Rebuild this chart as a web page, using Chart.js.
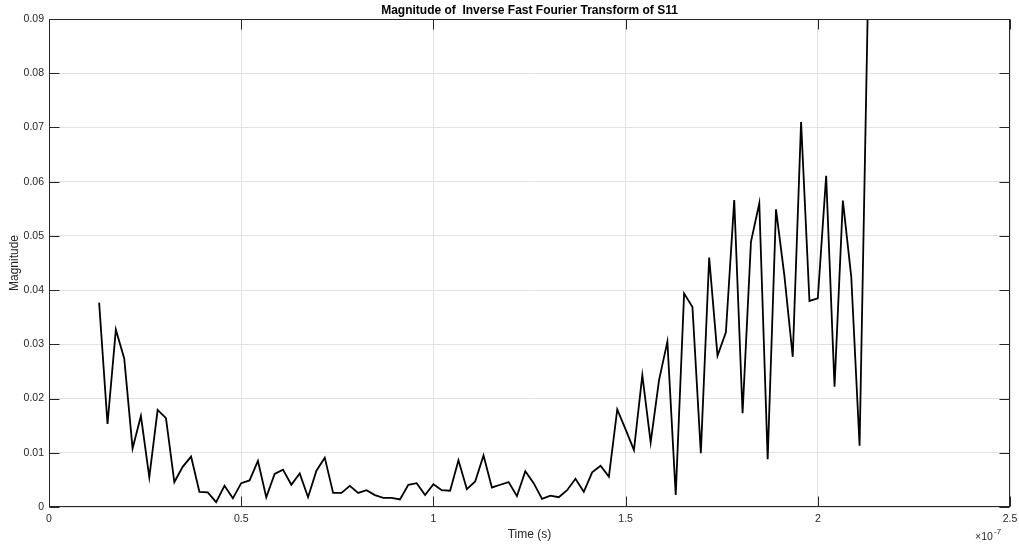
<!DOCTYPE html>
<html>
<head>
<meta charset="utf-8">
<script src="https://cdn.jsdelivr.net/npm/chart.js@4"></script>
<style>
  body { margin: 0; background: #fff; }
  #wrap { width: 1019px; height: 544px; }
</style>
</head>
<body>
<div id="wrap"><canvas id="chart"></canvas></div>
<script>
// time axis is in units of 1e-7 s (shown as x10^-7 at the corner)
const times = [
  0.1304, 0.1522, 0.1739, 0.1957, 0.2174, 0.2391, 0.2609, 0.2826, 0.3043, 0.3261,
  0.3478, 0.3696, 0.3913, 0.4130, 0.4348, 0.4565, 0.4783, 0.5000, 0.5217, 0.5435,
  0.5652, 0.5870, 0.6087, 0.6304, 0.6522, 0.6739, 0.6957, 0.7174, 0.7391, 0.7609,
  0.7826, 0.8043, 0.8261, 0.8478, 0.8696, 0.8913, 0.9130, 0.9348, 0.9565, 0.9783,
  1.0000, 1.0217, 1.0435, 1.0652, 1.0870, 1.1087, 1.1304, 1.1522, 1.1739, 1.1957,
  1.2174, 1.2391, 1.2609, 1.2826, 1.3043, 1.3261, 1.3478, 1.3696, 1.3913, 1.4130,
  1.4348, 1.4565, 1.4783, 1.5000, 1.5217, 1.5435, 1.5652, 1.5870, 1.6087, 1.6304,
  1.6522, 1.6739, 1.6957, 1.7174, 1.7391, 1.7609, 1.7826, 1.8043, 1.8261, 1.8478,
  1.8696, 1.8913, 1.9130, 1.9348, 1.9565, 1.9783, 2.0000, 2.0217, 2.0435, 2.0652,
  2.0870, 2.1087, 2.1304
];
const magnitude = [
  0.0377, 0.0153, 0.0327, 0.0274, 0.0108, 0.0168, 0.0055, 0.0179, 0.0164, 0.0046,
  0.0074, 0.0093, 0.0028, 0.0027, 0.0009, 0.0039, 0.0016, 0.0044, 0.0049, 0.0085,
  0.0018, 0.0061, 0.0069, 0.0041, 0.0062, 0.0018, 0.0067, 0.0091, 0.0026, 0.0026,
  0.0039, 0.0026, 0.0031, 0.0022, 0.0017, 0.0017, 0.0014, 0.0041, 0.0044, 0.0022,
  0.0042, 0.0031, 0.0030, 0.0086, 0.0033, 0.0047, 0.0095, 0.0036, 0.0041, 0.0046,
  0.0020, 0.0066, 0.0044, 0.0015, 0.0021, 0.0018, 0.0031, 0.0052, 0.0028, 0.0064,
  0.0076, 0.0056, 0.0180, 0.0143, 0.0105, 0.0243, 0.0119, 0.0234, 0.0305, 0.0022,
  0.0394, 0.0369, 0.0099, 0.0460, 0.0279, 0.0322, 0.0566, 0.0173, 0.0489, 0.0560,
  0.0088, 0.0549, 0.0427, 0.0277, 0.0710, 0.0380, 0.0385, 0.0611, 0.0222, 0.0565,
  0.0425, 0.0113, 0.0935
];
const xTicks = [0, 0.5, 1, 1.5, 2, 2.5];
const yTicks = [0, 0.01, 0.02, 0.03, 0.04, 0.05, 0.06, 0.07, 0.08, 0.09];

const chartTitle = "Magnitude of  Inverse Fast Fourier Transform of S11";
const axisColor = "#262626";
const gridColor = "#e3e3e3";
const fontFam = '"Liberation Sans", Arial, Helvetica, sans-serif';

var points = [];
for (var i = 0; i < times.length; i++) {
    points.push({ x: times[i], y: magnitude[i] });
}

// box round the plot, inward ticks, title and the exponent label
const boxPlugin = {
    id: "box",
    afterDraw(chart) {
        const ctx = chart.ctx;
        const a = chart.chartArea;
        const xs = chart.scales.x;
        const ys = chart.scales.y;
        const L = Math.round(a.left) + 0.5, R = Math.round(a.right) - 0.5;
        const T = Math.round(a.top) + 0.5, B = Math.round(a.bottom) - 0.5;
        ctx.save();
        ctx.strokeStyle = axisColor;
        ctx.lineWidth = 1;
        ctx.strokeRect(L, T, R - L, B - T);
        ctx.beginPath();
        xTicks.forEach(v => {
            var px = Math.round(xs.getPixelForValue(v)) + 0.5;
            ctx.moveTo(px, B); ctx.lineTo(px, B - 10);
            ctx.moveTo(px, T); ctx.lineTo(px, T + 10);
        });
        yTicks.forEach(v => {
            var py = Math.round(ys.getPixelForValue(v)) + 0.5;
            ctx.moveTo(L, py); ctx.lineTo(L + 10, py);
            ctx.moveTo(R, py); ctx.lineTo(R - 10, py);
        });
        ctx.stroke();

        ctx.fillStyle = "#000";
        ctx.font = "bold 12px " + fontFam;
        ctx.textAlign = "center";
        ctx.textBaseline = "middle";
        ctx.fillText(chartTitle, (a.left + a.right) / 2, 11);

        ctx.fillStyle = axisColor;
        ctx.textAlign = "left";
        ctx.textBaseline = "alphabetic";
        ctx.font = "10.5px " + fontFam;
        ctx.fillText("\u00d710", 975, 540);
        ctx.font = "8px " + fontFam;
        ctx.fillText("-7", 994, 534);
        ctx.restore();
    }
};

const ctx = document.getElementById("chart").getContext("2d");
const myChart = new Chart(ctx, {
    type: "line",
    data: {
        datasets: [{
            label: "Magnitude",
            data: points,
            borderColor: "#000",
            borderWidth: 1.8,
            pointRadius: 0,
            tension: 0,
            fill: false
        }]
    },
    options: {
        responsive: true,
        maintainAspectRatio: false,
        animation: false,
        layout: { padding: { top: 19, right: 9, left: 0, bottom: 0 } },
        plugins: {
            legend: { display: false },
            tooltip: { enabled: false },
            title: { display: false }
        },
        scales: {
            x: {
                type: "linear",
                min: 0,
                max: 2.5,
                afterBuildTicks: s => { s.ticks = xTicks.map(v => ({ value: v })); },
                afterFit: s => { s.height = 37; s.paddingLeft = 0; s.paddingRight = 0; },
                border: { display: false },
                grid: { color: gridColor, drawTicks: false },
                ticks: {
                    padding: 6,
                    color: axisColor,
                    font: { family: fontFam, size: 10.5 },
                    maxRotation: 0,
                    callback: v => String(v)
                },
                title: {
                    display: true,
                    text: "Time (s)",
                    color: axisColor,
                    font: { family: fontFam, size: 12 },
                    padding: { top: 0, bottom: 2 }
                }
            },
            y: {
                min: 0,
                max: 0.09,
                afterBuildTicks: s => { s.ticks = yTicks.map(v => ({ value: v })); },
                afterFit: s => { s.width = 49; s.paddingTop = 0; s.paddingBottom = 0; },
                border: { display: false },
                grid: { color: gridColor, drawTicks: false },
                ticks: {
                    padding: 5,
                    color: axisColor,
                    font: { family: fontFam, size: 10.5 },
                    callback: v => String(+v.toFixed(2))
                },
                title: {
                    display: true,
                    text: "Magnitude",
                    color: axisColor,
                    font: { family: fontFam, size: 12 },
                    padding: { top: 7, bottom: 0 }
                }
            }
        }
    },
    plugins: [boxPlugin]
});
</script>
</body>
</html>
